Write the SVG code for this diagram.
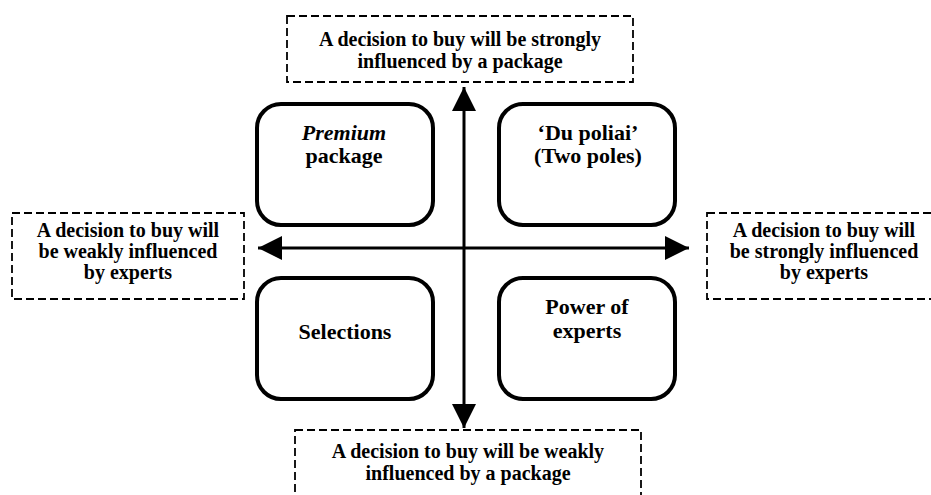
<svg xmlns="http://www.w3.org/2000/svg" width="931" height="495" viewBox="0 0 931 495">
<defs>
<style>
.dash{fill:#fff;stroke:#000;stroke-width:1.8;stroke-dasharray:8,4}
.node{fill:#fff;stroke:#000;stroke-width:4}
.ax{stroke:#000;stroke-width:3;fill:none}
</style>
<marker id="ah" viewBox="0 0 24 24" refX="24" refY="12" markerWidth="24" markerHeight="24" markerUnits="userSpaceOnUse" orient="auto">
<path d="M0,0 L24,12 L0,24 Z" fill="#000"/>
</marker>
</defs>
<rect width="931" height="495" fill="#fff"/>
<g id="connectors">
<path class="ax" d="M464,248 V87" marker-end="url(#ah)"/>
<path class="ax" d="M464,248 V428" marker-end="url(#ah)"/>
<path class="ax" d="M464,248 H258" marker-end="url(#ah)"/>
<path class="ax" d="M464,248 H689" marker-end="url(#ah)"/>
</g>
<g font-family="Liberation Serif" font-weight="bold" font-size="20" text-anchor="middle">
<g id="top-label">
<rect class="dash" x="287" y="16" width="346" height="66"/>
<text x="460" y="46">A decision to buy will be strongly</text>
<text x="460" y="68">influenced by a package</text>
</g>
<g id="bottom-label">
<rect class="dash" x="295" y="430" width="346" height="75"/>
<text x="468" y="458">A decision to buy will be weakly</text>
<text x="468" y="480">influenced by a package</text>
</g>
<g id="left-label">
<rect class="dash" x="12" y="213" width="232" height="86"/>
<text x="128" y="237">A decision to buy will</text>
<text x="128" y="258">be weakly influenced</text>
<text x="128" y="279">by experts</text>
</g>
<g id="right-label">
<rect class="dash" x="707" y="213" width="240" height="86"/>
<text x="824" y="237">A decision to buy will</text>
<text x="824" y="258">be strongly influenced</text>
<text x="824" y="279">by experts</text>
</g>
<g id="premium" font-size="22">
<rect class="node" x="257" y="104" width="176" height="121" rx="24"/>
<text x="344" y="140" font-style="italic">Premium</text>
<text x="344" y="163">package</text>
</g>
<g id="du-poliai" font-size="22">
<rect class="node" x="499" y="104" width="176" height="121" rx="24"/>
<text x="588" y="140">‘Du poliai’</text>
<text x="588" y="163">(Two poles)</text>
</g>
<g id="selections" font-size="22">
<rect class="node" x="257" y="278" width="176" height="121" rx="24"/>
<text x="345" y="339">Selections</text>
</g>
<g id="power-of-experts" font-size="22">
<rect class="node" x="499" y="278" width="176" height="121" rx="24"/>
<text x="587" y="314">Power of</text>
<text x="587" y="338">experts</text>
</g>
</g>
</svg>
